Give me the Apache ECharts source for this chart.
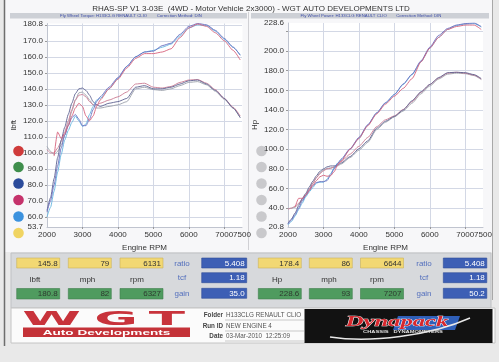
<!DOCTYPE html>
<html><head><meta charset="utf-8">
<script src="https://cdn.jsdelivr.net/npm/echarts@6/dist/echarts.min.js"></script>
<style>html,body{margin:0;padding:0;background:#e9e9e9}#c{width:499px;height:362px}</style>
</head><body><div id="c"></div>
<script>
// ---------- data ----------
const rpm = [2000,2100,2200,2300,2400,2500,2600,2700,2800,2900,3000,3100,3200,3300,3400,3500,3750,4000,4250,4500,4750,5000,5250,5500,5750,6000,6250,6500,6750,7000,7250,7450];

// torque (lbft)
const tqRedUp  = [null,null,98,113,109,112,117,123,128,131,129,123,120,123,129,133,140,146,153,159,162,162,163,165,172,178,180.5,179,175,170,164,158];
const tqBlueUp = [63,70,80,92,103,111,117,122,124,121,117,117,121,127,132,135,141,147,154,160,163,163.5,167,168.5,174,179,180.8,180,176.5,171.5,166,161];
const tqCyanUp = [60,66,76,88,99,108,114,119,123,120,116.5,118,124,129,133,134,140,146.5,154,160,163,164,166,168,173,178,180,179.5,176,171,166,161];
const tqNavyLo = [64,72,84,97,108,116,124,131,137,140,140.5,139,136,132,130,129,131,132,134,141,142,140,140,141,143,145,145.5,143,139,134,128,122];
const tqGrayLo = [104,101,99,101,105,111,118,126,133,137.5,138,136,133,130,128,128,129,130,132,140,141,139.5,139,140,142,144,144.5,142.5,138.5,133.5,128,122];
const tqRedLo  = [102,100,100,103,107,113,120,127,133,136,136.5,135,132,130,130,131,133,135,138,143,143.5,141,140.5,141.5,144,145.5,145.8,143.5,139.5,134,128.5,123];

// power (Hp)
const hpRedUp  = [null,null,41,50,50,53,58,63,68,72,73.5,72.5,73,77,84,88,100,111,124,136,146,154,162,172,189,203,214,222,225,226.5,226.5,222];
const hpBlueUp = [24,28,33.5,40,47,53,58,63,66,67,67,68,73.5,80,85.5,90,100.5,112,125,137,147.5,155.5,166.5,176.5,190,204,216,223,226.5,228,228.6,225];
const hpCyanUp = [23,26.5,32,38.5,45,51.5,56.5,61,65.5,66.5,66.5,69.5,75,81,86,89,100,111,124.5,137,147,156,166,176,189,203,214,222,226,227.5,228,224.5];
const hpNavyLo = [24.5,29,35,42.5,49.5,55,61.5,67.5,73,77.5,80,82,83,83,84,86,92.5,100.5,108.5,121.5,128.5,133.5,140,149.5,158.5,166,173,178,178.4,178,176,172];
const hpGrayLo = [39.5,40,41,44,48,52.5,59,65,71,76,79,80.5,81,81.5,83,85,91.5,99,107,120,127.5,133,139,147,156.5,164.5,171.5,176.5,177.5,177,175,171];
const hpRedLo  = [39,40,42,45,49,54,59.5,65.5,71,75,78,80,80.5,82,85,87.5,95,103,112,123,130,134,140.5,148.5,158,166,172.5,177.5,178.4,177.5,175.5,171.5];

// axis ticks
const rpmTicks = [2000,3000,4000,5000,6000,7000,7500];
const tqLabelTicks = [53.7,60,70,80,90,100,110,120,130,140,150,160,170,180.8];
const tqGridTicks = [60,70,80,90,100,110,120,130,140,150,160,170,180];
const hpLabelTicks = [20.8,40,60,80,100,120,140,160,180,200,228.6];
const hpGridTicks = [40,60,80,100,120,140,160,180,200,220];

// readout panels
const leftYellow = ['145.8','79','6131'];
const leftGreen  = ['180.8','82','6327'];
const leftBlue   = ['5.408','1.18','35.0'];
const rightYellow = ['178.4','86','6644'];
const rightGreen  = ['228.6','93','7207'];
const rightBlue   = ['5.408','1.18','50.2'];
const leftUnits = ['lbft','mph','rpm'];
const rightUnits = ['Hp','mph','rpm'];
const factorNames = ['ratio','tcf','gain'];

const titleText = 'RHAS-SP V1 3-03E  (4WD - Motor Vehicle 2x3000) - WGT AUTO DEVELOPMENTS LTD';
const leftSub = 'Fly Wheel Torque: H133CLG RENAULT CLIO        Correction Method: DIN';
const rightSub = 'Fly Wheel Power: H133CLG RENAULT CLIO        Correction Method: DIN';
const folderInfo = [['Folder','H133CLG RENAULT CLIO'],['Run ID','NEW ENGINE 4'],['Date','03-Mar-2010  12:25:09']];

// ---------- chart ----------
const FF = "'Liberation Sans', Arial, sans-serif";
const pairs = arr => rpm.map((r,i)=>[r, arr[i]]);

function xAxisDef(idx){
  return {
    type:'value', gridIndex:idx, min:2000, max:7500,
    name:'Engine RPM', nameLocation:'middle', nameGap:17,
    nameTextStyle:{fontSize:8, color:'#333', fontFamily:FF},
    axisLine:{show:true, lineStyle:{color:'#c0c4cf', width:1}},
    axisTick:{show:true, length:2, lineStyle:{color:'#999'}, customValues:[3000,4000,5000,6000,7000]},
    axisLabel:{customValues:rpmTicks, fontSize:8, color:'#333', fontFamily:FF, margin:4, formatter:v=>String(Math.round(v))},
    splitLine:{show:true, lineStyle:{color:'#d3d8e5', width:1}}
  };
}
function yAxisDef(idx, min, max, labels, grid, name){
  return {
    type:'value', gridIndex:idx, min:min, max:max,
    name:name, nameLocation:'middle', nameGap:29, nameRotate:90,
    nameTextStyle:{fontSize:8, color:'#333', fontFamily:FF},
    axisLine:{show:true, lineStyle:{color:'#c0c4cf', width:1}},
    axisTick:{show:true, length:2, lineStyle:{color:'#999'}, customValues:grid},
    axisLabel:{customValues:labels, fontSize:8, color:'#333', fontFamily:FF, margin:4, formatter:v=>v.toFixed(1)},
    splitLine:{show:true, lineStyle:{color:'#d3d8e5', width:1}}
  };
}
function line(name, arr, color, xi){
  return {name, type:'line', xAxisIndex:xi, yAxisIndex:xi, data:pairs(arr), showSymbol:false,
    smooth:0.2, smoothMonotone:'x', connectNulls:false, lineStyle:{color, width:0.9}, itemStyle:{color}, silent:true};
}

const g = [];
// page areas
g.push({type:'rect', shape:{x:5,y:0,width:488,height:252}, style:{fill:'#f7f7f9'}, z:-10});
g.push({type:'rect', shape:{x:47,y:23.5,width:195.5,height:203.5}, style:{fill:'#ffffff'}, z:-9});
g.push({type:'rect', shape:{x:288,y:23,width:195,height:204}, style:{fill:'#ffffff'}, z:-9});
g.push({type:'line', shape:{x1:4.5,y1:0,x2:4.5,y2:346}, style:{stroke:'#6e6e6e', lineWidth:1.5}});
g.push({type:'line', shape:{x1:492.5,y1:0,x2:492.5,y2:300}, style:{stroke:'#a8a8a8', lineWidth:1}});
g.push({type:'line', shape:{x1:248.5,y1:12,x2:248.5,y2:250}, style:{stroke:'#d0d0d4', lineWidth:1}});
// title + bands
g.push({type:'text', x:251, y:8.5, style:{text:titleText, fill:'#333', fontSize:8, fontFamily:FF, align:'center', verticalAlign:'middle'}});
g.push({type:'rect', shape:{x:10,y:13,width:237,height:5.5}, style:{fill:'#cdd0d6'}});
g.push({type:'rect', shape:{x:251,y:13,width:238,height:5.5}, style:{fill:'#cdd0d6'}});
g.push({type:'text', x:131, y:15.8, style:{text:leftSub, fill:'#3b4ba6', fontSize:4.3, fontFamily:FF, align:'center', verticalAlign:'middle'}});
g.push({type:'text', x:371, y:15.8, style:{text:rightSub, fill:'#3b4ba6', fontSize:4.3, fontFamily:FF, align:'center', verticalAlign:'middle'}});
// run dots
const dotColors = ['#cf3b3b','#3f8e4c','#2b4b9b','#c5326b','#3c92de','#f0d462'];
const dotY = [151,167,183.5,200,216.5,233];
dotColors.forEach((c,i)=>{
  g.push({type:'circle', shape:{cx:18.5, cy:dotY[i], r:5.3}, style:{fill:c}});
  g.push({type:'circle', shape:{cx:261.5, cy:dotY[i], r:5.3}, style:{fill:'#c9c9cc'}});
});
// readout panel
g.push({type:'rect', shape:{x:11,y:253,width:480,height:55}, style:{fill:'#d7d9dc', stroke:'#bfc1c4', lineWidth:1}});
function panel(xs, bx, bw, yel, grn, blu, units, labelXs, factX){
  for(let i=0;i<3;i++){
    g.push({type:'rect', shape:{x:xs[i],y:258,width:43,height:10}, style:{fill:'#f2d873', stroke:'#c9b35a', lineWidth:0.6}});
    g.push({type:'text', x:xs[i]+41, y:263.3, style:{text:yel[i], fill:'#333', fontSize:8, fontFamily:FF, align:'right', verticalAlign:'middle'}});
    g.push({type:'rect', shape:{x:xs[i],y:288.5,width:43,height:10.5}, style:{fill:'#4f9b5f', stroke:'#3f7f4d', lineWidth:0.6}});
    g.push({type:'text', x:xs[i]+41, y:294, style:{text:grn[i], fill:'#2d3a2f', fontSize:8, fontFamily:FF, align:'right', verticalAlign:'middle'}});
    g.push({type:'text', x:labelXs[i], y:279.5, style:{text:units[i], fill:'#333', fontSize:8, fontFamily:FF, align:'center', verticalAlign:'middle'}});
    const by = [258,272.7,288.3][i];
    g.push({type:'rect', shape:{x:bx,y:by,width:bw,height:10}, style:{fill:'#3d5fb5', stroke:'#2f4d98', lineWidth:0.6}});
    g.push({type:'text', x:bx+bw-2, y:by+5.3, style:{text:blu[i], fill:'#ffffff', fontSize:8, fontFamily:FF, align:'right', verticalAlign:'middle'}});
    g.push({type:'text', x:factX, y:by+5.5, style:{text:factorNames[i], fill:'#5470bd', fontSize:8, fontFamily:FF, align:'center', verticalAlign:'middle'}});
  }
}
panel([16.7,68.3,120], 201.7, 45, leftYellow, leftGreen, leftBlue, leftUnits, [35,87.5,137], 182);
panel([258.3,309.3,360.5], 443.3, 43.5, rightYellow, rightGreen, rightBlue, rightUnits, [277,329,377], 424);
// footer
g.push({type:'rect', shape:{x:11,y:308,width:484,height:35}, style:{fill:'#fbfbfb', stroke:'#c4c4c4', lineWidth:1}});
// WGT logo
[['W',51.5],['G',116],['T',167]].forEach(([t,x])=>{
  g.push({type:'text', x:x, y:320.5, scaleX:2.8, style:{text:t, fill:'#c8333b', fontSize:19, fontWeight:'900', fontFamily:"'DejaVu Sans', sans-serif", align:'center', verticalAlign:'middle'}});
});
g.push({type:'rect', shape:{x:23,y:327.5,width:167,height:9.5}, style:{fill:'#c43238'}});
g.push({type:'text', x:106.5, y:332.5, scaleX:1.7, style:{text:'Auto Developments', fill:'#ffffff', fontSize:8, fontWeight:'bold', fontFamily:FF, align:'center', verticalAlign:'middle'}});
// folder info
folderInfo.forEach(([k,v],i)=>{
  const y = [315.5,326.5,336.5][i];
  g.push({type:'text', x:223, y:y, style:{text:k, fill:'#444', fontSize:6.3, fontWeight:'bold', fontFamily:FF, align:'right', verticalAlign:'middle'}});
  g.push({type:'text', x:226, y:y, style:{text:v, fill:'#555', fontSize:6.3, fontFamily:FF, align:'left', verticalAlign:'middle'}});
  g.push({type:'line', shape:{x1:225,y1:y+4.5,x2:304,y2:y+4.5}, style:{stroke:'#aaa', lineWidth:0.6}});
});
// Dynapack logo
g.push({type:'rect', shape:{x:304.5,y:309,width:188,height:34}, style:{fill:'#121212'}, z:5});
g.push({type:'polygon', shape:{points:[[398,316],[460,316],[455,330],[393,330]]}, style:{fill:'#2f5fb8'}, z:5});
g.push({type:'bezierCurve', shape:{x1:330,y1:337,cpx1:370,cpy1:343,cpx2:430,cpy2:336,x2:470,y2:318}, style:{stroke:'#e8e8e8', lineWidth:1.4, fill:null}, z:6});
g.push({type:'text', x:397, y:322.5, scaleX:1.7, z:7, style:{text:'Dynapack', fill:'#d8282e', stroke:'#ffffff', lineWidth:0.7, fontSize:14.5, fontWeight:'bold', fontStyle:'italic', fontFamily:"'Liberation Serif', serif", align:'center', verticalAlign:'middle'}});
g.push({type:'text', x:403, y:332.3, scaleX:1.6, z:7, style:{text:'CHASSIS   DYNAMOMETERS', fill:'#e0e0e0', fontSize:3.6, fontWeight:'bold', fontFamily:FF, align:'center', verticalAlign:'middle'}});

const option = {
  animation:false,
  backgroundColor:'#e9e9e9',
  grid:[
    {left:47, right:257, top:23.5, bottom:135},
    {left:288, right:16, top:23, bottom:135}
  ],
  xAxis:[xAxisDef(0), xAxisDef(1)],
  yAxis:[
    yAxisDef(0, 53.7, 180.8, tqLabelTicks, tqGridTicks, 'lbft'),
    yAxisDef(1, 20.8, 228.6, hpLabelTicks, hpGridTicks, 'Hp')
  ],
  series:[
    line('Torque run 1 (lower)', tqGrayLo, '#9a9fa9', 0),
    line('Torque run 2 (lower)', tqRedLo, '#c97a92', 0),
    line('Torque run 3 (lower)', tqNavyLo, '#5c6190', 0),
    line('Torque run 1', tqCyanUp, '#62b4e0', 0),
    line('Torque run 2', tqBlueUp, '#6a6ec0', 0),
    line('Torque run 3', tqRedUp, '#d6607a', 0),
    line('Power run 1 (lower)', hpGrayLo, '#9a9fa9', 1),
    line('Power run 2 (lower)', hpRedLo, '#c97a92', 1),
    line('Power run 3 (lower)', hpNavyLo, '#5c6190', 1),
    line('Power run 1', hpCyanUp, '#62b4e0', 1),
    line('Power run 2', hpBlueUp, '#6a6ec0', 1),
    line('Power run 3', hpRedUp, '#d6607a', 1)
  ],
  graphic:{elements:g}
};
const chart = echarts.init(document.getElementById('c'));
chart.setOption(option);
</script>
</body></html>
